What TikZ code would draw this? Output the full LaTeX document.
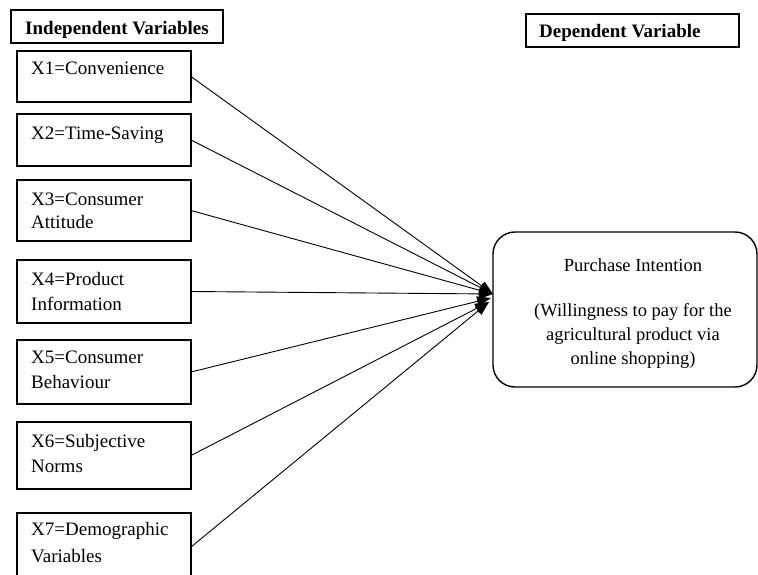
\documentclass[tikz,border=0pt]{standalone}
\usepackage{fontspec}
\setmainfont{Liberation Serif}
\usetikzlibrary{arrows.meta}
\begin{document}
\begin{tikzpicture}[x=1pt,y=-1pt,
  box/.style={draw, line width=1.2pt, inner sep=0pt, outer sep=0pt, anchor=north west},
  lbl/.style={anchor=base west, inner sep=0pt, font=\fontsize{19}{24}\selectfont},
  hdr/.style={inner sep=0pt, font=\bfseries\fontsize{19}{22}\selectfont},
  link/.style={line width=0.9pt, -{Triangle[length=14pt,width=10pt]}}]
\useasboundingbox (0,0) rectangle (758,575);
\clip (0,0) rectangle (758,575);

% headers
\node[box, minimum width=212pt, minimum height=33pt] (hl) at (11,10) {};
\node[hdr, anchor=base] (hlt) at (117,35) {Independent Variables};
\node[box, minimum width=213pt, minimum height=33pt] (hr) at (526,14) {};
\node[hdr, anchor=base west] (hrt) at (539,38) {Dependent Variable};

% independent variable boxes
\node[box, minimum width=174pt, minimum height=51pt] (x1) at (17,51) {};
\node[lbl] (x1t) at (31,75) {X1=Convenience};
\node[box, minimum width=174pt, minimum height=52pt] (x2) at (17,114) {};
\node[lbl] (x2t) at (31,140) {X2=Time-Saving};
\node[box, minimum width=174pt, minimum height=61pt] (x3) at (17,180) {};
\node[lbl] (x3t) at (31,205) {X3=Consumer};
\node[lbl] (x3u) at (31,229) {Attitude};
\node[box, minimum width=174pt, minimum height=63pt] (x4) at (17,260) {};
\node[lbl] (x4t) at (31,285) {X4=Product};
\node[lbl] (x4u) at (31,310) {Information};
\node[box, minimum width=174pt, minimum height=64pt] (x5) at (17,340) {};
\node[lbl] (x5t) at (31,363) {X5=Consumer};
\node[lbl] (x5u) at (31,388) {Behaviour};
\node[box, minimum width=174pt, minimum height=67pt] (x6) at (17,422) {};
\node[lbl] (x6t) at (31,447) {X6=Subjective};
\node[lbl] (x6u) at (31,472) {Norms};
\node[box, minimum width=174pt, minimum height=66pt] (x7) at (17,513) {};
\node[lbl] (x7t) at (31,535) {X7=Demographic};
\node[lbl] (x7u) at (31,562) {Variables};

% dependent variable box
\node[box, line width=1.4pt, rounded corners=22pt, minimum width=264pt, minimum height=155pt] (pi) at (493,232) {};
\node[align=center, inner sep=0pt, font=\fontsize{18.5}{24}\selectfont] (pit) at (633,314)
  {Purchase Intention\\[21pt](Willingness to pay for the\\agricultural product via\\online shopping)};

% arrows
\coordinate (ta) at (493,294);
\coordinate (tb) at (491,298);
\coordinate (tc) at (489,302);
\draw[link] (x1.east) -- (ta);
\draw[link] (x2.east) -- (ta);
\draw[link] (x3.east) -- (ta);
\draw[link] (x4.east) -- (ta);
\draw[link] (x5.east) -- (tb);
\draw[link] (x6.east) -- (tc);
\draw[link] ([yshift=-1pt]x7.east) -- (tc);
\end{tikzpicture}
\end{document}
